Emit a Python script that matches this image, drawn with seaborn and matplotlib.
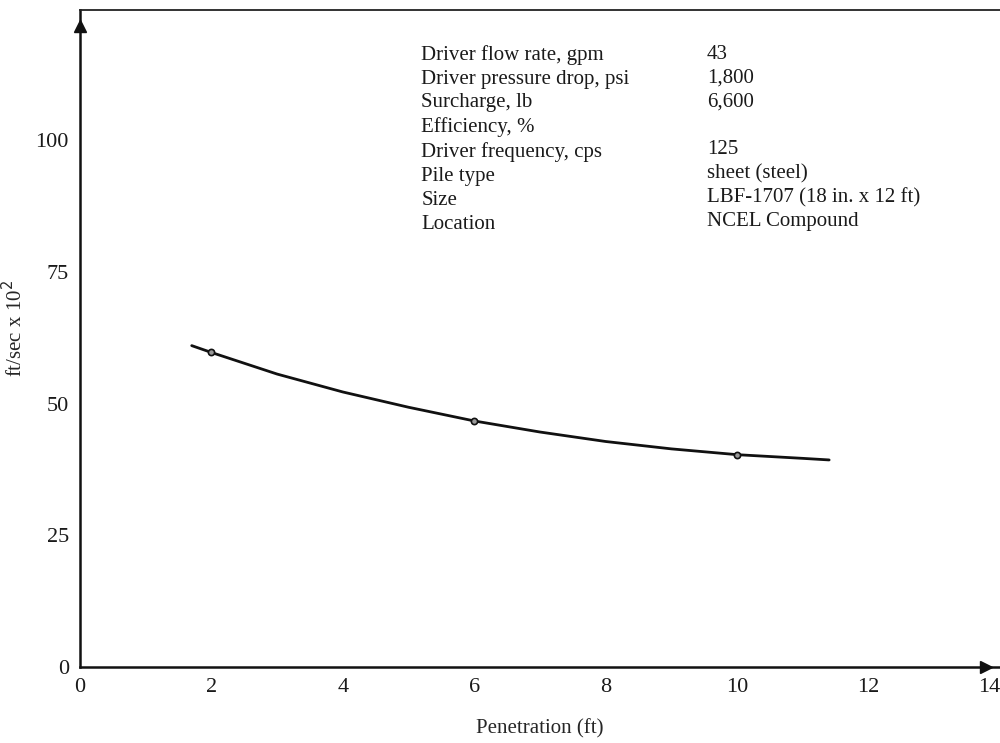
import matplotlib
matplotlib.use("Agg")
import matplotlib.pyplot as plt
import seaborn as sns
import pandas as pd

# points
curve_x = [1.7, 2.0, 3.0, 4.0, 5.0, 6.0, 7.0, 8.0, 9.0, 10.0, 11.0, 11.4]
curve_y = [61.0, 59.7, 55.6, 52.2, 49.3, 46.7, 44.6, 42.8, 41.4, 40.3, 39.6, 39.3]

# measured points
meas_x = [2, 6, 10]
meas_y = [59.7, 46.7, 40.3]

x_ticks = [0, 2, 4, 6, 8, 10, 12, 14]
y_ticks = [0, 25, 50, 75, 100]

param_names = ["Driver flow rate, gpm", "Driver pressure drop, psi",
               "Surcharge, lb", "Efficiency, %", "Driver frequency, cps",
               "Pile type", "Size", "Location"]
param_values = ["43", "1,800", "6,600", "", "125", "sheet (steel)",
                "LBF-1707 (18 in. x 12 ft)", "NCEL Compound"]


def plot_penetration():
    sns.set_style("white")
    plt.rcParams['font.family'] = ['Liberation Serif', 'DejaVu Serif']
    plt.rcParams['text.color'] = '#1a1a1a'

    fig = plt.figure(figsize=(10, 7.43), dpi=100)
    ax = fig.add_axes([0.08, 0.1023, 0.92, 0.8842])

    df_curve = pd.DataFrame({"x": curve_x, "y": curve_y})
    df_meas = pd.DataFrame({"x": meas_x, "y": meas_y})

    sns.lineplot(data=df_curve, x="x", y="y", sort=False, color='#111111',
                 linewidth=2.0, ax=ax)
    sns.scatterplot(data=df_meas, x="x", y="y", marker='o', s=20,
                    facecolor='#999999', edgecolor='#111111', linewidth=1.2,
                    zorder=3, ax=ax)

    ax.set_xlim(0, 14)
    ax.set_ylim(0, 124.7)
    ax.set_xticks(x_ticks)
    ax.set_yticks(y_ticks)
    ax.set_xticklabels([str(t) for t in x_ticks])
    ax.set_yticklabels([str(t) for t in y_ticks])
    ax.tick_params(axis='both', direction='in', length=13, width=1.3,
                   color='#111111', labelsize=16, labelcolor='#1a1a1a')
    ax.tick_params(axis='y', pad=8)
    ax.tick_params(axis='x', pad=8)
    ax.get_xticklabels()[-1].set_horizontalalignment('right')

    for side in ['left', 'bottom']:
        ax.spines[side].set_linewidth(1.8)
        ax.spines[side].set_color('#111111')
    ax.spines['top'].set_linewidth(1.3)
    ax.spines['top'].set_color('#222222')
    ax.spines['right'].set_visible(False)

    # arrow heads on the axes
    ax.plot(0, 0.975, '^', color='#111111', markersize=8,
            transform=ax.transAxes, clip_on=False)
    ax.plot(0.985, 0, '>', color='#111111', markersize=8,
            transform=ax.transAxes, clip_on=False)

    ax.set_xlabel('Penetration (ft)', fontsize=15, labelpad=16)
    ax.set_ylabel('ft/sec x 10$^2$', fontsize=15)
    ax.yaxis.set_label_coords(-0.057, 0.516)

    ax.text(0.371, 0.947, "\n".join(param_names), transform=ax.transAxes,
            fontsize=15, va='top', ha='left', linespacing=1.34)
    ax.text(0.6815, 0.947, "\n".join(param_values), transform=ax.transAxes,
            fontsize=15, va='top', ha='left', linespacing=1.34)

    plt.savefig("out.png", format='png', dpi=100)


def main():
    plot_penetration()


if __name__ == "__main__":
    main()
